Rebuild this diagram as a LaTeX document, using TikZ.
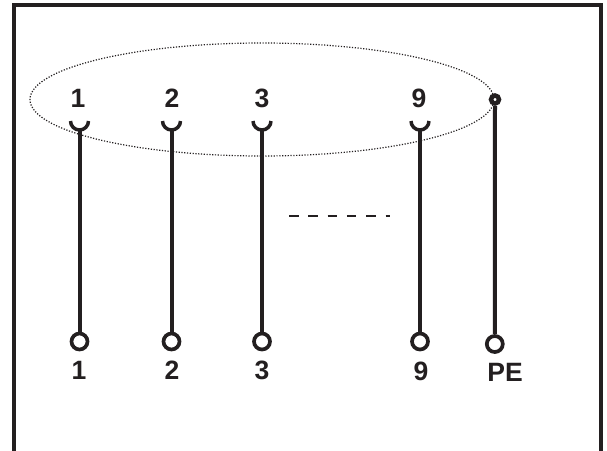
\documentclass[tikz,border=0pt]{standalone}
\usepackage{fontspec}
\setmainfont{Liberation Sans}
\definecolor{ink}{HTML}{231F20}
\tikzset{
  x=1pt,y=-1pt,
  wire/.style={draw=ink,line width=4pt},
  framed/.style={draw=ink,line width=4pt},
  term/.style={circle,draw=ink,line width=3.7pt,fill=white,minimum size=16pt,inner sep=0pt},
  pin/.style={circle,draw=ink,line width=4.5pt,fill=white,minimum size=8pt,inner sep=0pt},
  lab/.style={font=\bfseries\fontsize{26.5}{26.5}\selectfont,text=ink,inner sep=0pt},
  halo/.style={draw=ink,line width=1.2pt,dash pattern=on 1.2pt off 1.6pt},
  cup/.style={draw=ink,line width=3.5pt},
  gap/.style={draw=ink,line width=1.5pt,dash pattern=on 9.5pt off 9.8pt}
}
\begin{document}
\begin{tikzpicture}
\useasboundingbox (0,0) rectangle (607,450);
\fill[white] (0,0) rectangle (607,450);
\draw[framed] (13.5,452) -- (13.5,4.5) -- (601,4.5) -- (601,452);
\draw[halo] (262,99.5) ellipse [x radius=232,y radius=56.5];
% upper contacts
\coordinate (c1) at (79.5,129);
\coordinate (c2) at (171.5,129);
\coordinate (c3) at (262,129);
\coordinate (c9) at (420,129);
\node[pin] (p) at (495,99.5) {};
% lower terminals
\node[term] (t1) at (79.5,341.5) {};
\node[term] (t2) at (171.5,341.5) {};
\node[term] (t3) at (262,341.5) {};
\node[term] (t9) at (420,341.5) {};
\node[term] (tp) at (494.8,344) {};
% cups
\foreach \x in {79.5,171.5,262,420}{
  \draw[cup] (\x-9,121) arc[start angle=180,end angle=0,radius=9];
}
% wires
\draw[wire] (c1) -- (t1);
\draw[wire] (c2) -- (t2);
\draw[wire] (c3) -- (t3);
\draw[wire] (c9) -- (t9);
\draw[wire] (p) -- (tp);
% dashes
\coordinate (g1) at (289,216);
\coordinate (g2) at (390,216);
\draw[gap] (g1) -- (g2);
% labels
\node[lab] (l1) at (78,98.5) {1};
\node[lab] (l2) at (172,98.5) {2};
\node[lab] (l3) at (262,98.5) {3};
\node[lab] (l9) at (419,98.5) {9};
\node[lab] (b1) at (79,370) {1};
\node[lab] (b2) at (172,370) {2};
\node[lab] (b3) at (262,370) {3};
\node[lab] (b9) at (421,371) {9};
\node[lab] (bp) at (505,372) {PE};
\end{tikzpicture}
\end{document}
